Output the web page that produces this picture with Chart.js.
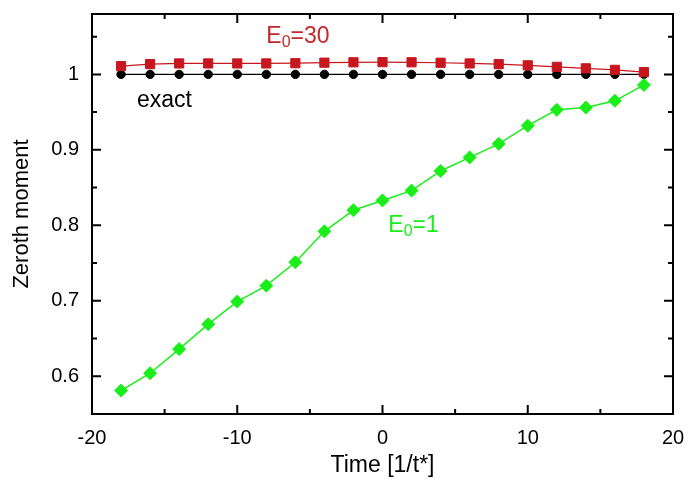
<!DOCTYPE html>
<html>
<head>
<meta charset="utf-8">
<script src="https://cdn.jsdelivr.net/npm/chart.js@4/dist/chart.umd.min.js"></script>
<style>
  html, body { margin: 0; padding: 0; background: #fff; }
  #wrap { width: 689px; height: 479px; }
</style>
</head>
<body>
<div id="wrap"><canvas id="momentChart"></canvas></div>
<script>
const times = [-18, -16, -14, -12, -10, -8, -6, -4, -2, 0, 2, 4, 6, 8, 10, 12, 14, 16, 18];
const exact = [1, 1, 1, 1, 1, 1, 1, 1, 1, 1, 1, 1, 1, 1, 1, 1, 1, 1, 1];
const e0_30 = [1.011, 1.0136, 1.0145, 1.0145, 1.0145, 1.0145, 1.0148, 1.0155, 1.016, 1.0162,
               1.016, 1.0154, 1.0145, 1.0136, 1.012, 1.010, 1.008, 1.006, 1.003];
const e0_1 = [0.581, 0.604, 0.636, 0.669, 0.699, 0.720, 0.751, 0.792, 0.820, 0.833,
              0.846, 0.872, 0.890, 0.908, 0.932, 0.953, 0.956, 0.965, 0.986];
const xMajor = [-20, -10, 0, 10, 20];
const xMinor = [-15, -5, 5, 15];
const yMajor = [0.6, 0.7, 0.8, 0.9, 1.0];
const yMinor = [0.65, 0.75, 0.85, 0.95, 1.05];

const FONT = "'Liberation Sans', Arial, Helvetica, sans-serif";
const RED = '#c8161e';
const GREEN = '#19ee19';

// curve labels, placed in data coordinates
const curveLabels = [
    { main: 'E', sub: '0', rest: '=30', x: -8.0, y: 1.05, color: '#c0282c' },
    { main: 'exact', sub: '', rest: '', x: -16.9, y: 0.965, color: '#000' },
    { main: 'E', sub: '0', rest: '=1', x: 0.4, y: 0.799, color: GREEN }
];

const xy = (vals) => times.map((t, i) => ({ x: t, y: vals[i] }));

const framePlugin = {
    id: 'frame',
    beforeDatasetsDraw(chart) {
        const { ctx, chartArea: a, scales } = chart;
        ctx.save();
        ctx.strokeStyle = '#000';
        ctx.lineWidth = 2;
        ctx.strokeRect(a.left, a.top, a.right - a.left, a.bottom - a.top);
        ctx.beginPath();
        const tickX = (v, len) => {
            const px = scales.x.getPixelForValue(v);
            ctx.moveTo(px, a.bottom); ctx.lineTo(px, a.bottom - len);
            ctx.moveTo(px, a.top); ctx.lineTo(px, a.top + len);
        };
        const tickY = (v, len) => {
            const py = scales.y.getPixelForValue(v);
            ctx.moveTo(a.left, py); ctx.lineTo(a.left + len, py);
            ctx.moveTo(a.right, py); ctx.lineTo(a.right - len, py);
        };
        xMajor.forEach(v => tickX(v, 9));
        xMinor.forEach(v => tickX(v, 5));
        yMajor.forEach(v => tickY(v, 9));
        yMinor.forEach(v => tickY(v, 5));
        ctx.stroke();
        ctx.restore();
    },
    afterDatasetsDraw(chart) {
        const { ctx, scales } = chart;
        ctx.save();
        ctx.textBaseline = 'middle';
        ctx.textAlign = 'left';
        curveLabels.forEach(l => {
            let px = scales.x.getPixelForValue(l.x);
            const py = scales.y.getPixelForValue(l.y);
            ctx.fillStyle = l.color;
            ctx.font = '23px ' + FONT;
            ctx.fillText(l.main, px, py);
            px += ctx.measureText(l.main).width;
            if (l.sub) {
                ctx.font = '16px ' + FONT;
                ctx.fillText(l.sub, px, py + 6);
                px += ctx.measureText(l.sub).width;
            }
            ctx.font = '23px ' + FONT;
            ctx.fillText(l.rest, px, py);
        });
        ctx.restore();
    }
};

new Chart(document.getElementById('momentChart'), {
    type: 'line',
    data: {
        datasets: [
            {
                label: 'E0=1',
                data: xy(e0_1),
                borderColor: GREEN,
                backgroundColor: GREEN,
                borderWidth: 1.5,
                pointStyle: 'rectRot',
                pointRadius: 6.5,
                pointBorderWidth: 1
            },
            {
                label: 'E0=30',
                data: xy(e0_30),
                borderColor: RED,
                backgroundColor: RED,
                borderWidth: 1.2,
                pointStyle: 'rect',
                pointRadius: 6.5,
                pointBorderWidth: 1
            },
            {
                label: 'exact',
                data: xy(exact),
                borderColor: '#000',
                backgroundColor: '#000',
                borderWidth: 1.2,
                pointStyle: 'circle',
                pointRadius: 4.2,
                pointBorderWidth: 1
            }
        ]
    },
    options: {
        responsive: true,
        maintainAspectRatio: false,
        animation: false,
        events: [],
        layout: { padding: { left: 0, right: 16, top: 14, bottom: 0 } },
        plugins: { legend: { display: false }, tooltip: { enabled: false } },
        scales: {
            x: {
                type: 'linear',
                min: -20,
                max: 20,
                grid: { display: false, drawTicks: false },
                border: { display: false },
                afterBuildTicks: s => { s.ticks = xMajor.map(v => ({ value: v })); },
                afterFit: s => { s.height = 65; s.paddingLeft = 0; s.paddingRight = 0; },
                ticks: {
                    color: '#000',
                    padding: 12,
                    maxRotation: 0,
                    font: { family: FONT, size: 20 },
                    callback: v => String(v)
                },
                title: {
                    display: true,
                    text: 'Time [1/t*]',
                    color: '#000',
                    font: { family: FONT, size: 23 },
                    padding: { top: 0, bottom: 0 }
                }
            },
            y: {
                type: 'linear',
                min: 0.55,
                max: 1.08,
                grid: { display: false, drawTicks: false },
                border: { display: false },
                afterBuildTicks: s => { s.ticks = yMajor.map(v => ({ value: v })); },
                afterFit: s => { s.width = 92; s.paddingTop = 0; s.paddingBottom = 0; },
                ticks: {
                    color: '#000',
                    padding: 13,
                    font: { family: FONT, size: 20 },
                    callback: v => String(Number(v.toFixed(2)))
                },
                title: {
                    display: true,
                    text: 'Zeroth moment',
                    color: '#000',
                    font: { family: FONT, size: 22 },
                    padding: { top: 9, bottom: 0 }
                }
            }
        }
    },
    plugins: [framePlugin]
});
</script>
</body>
</html>
